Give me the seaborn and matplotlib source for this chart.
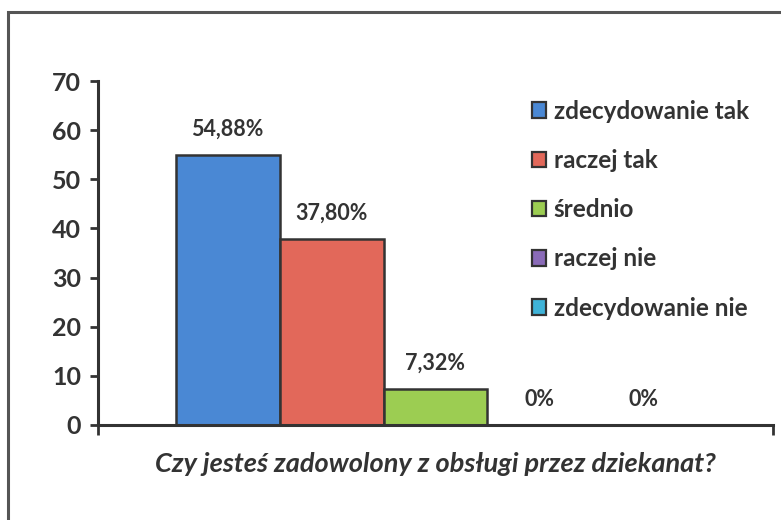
import numpy as np
import pandas as pd
import matplotlib.pyplot as plt
import matplotlib.patches as mpatches
import seaborn as sns

# --------------------
# DATA
# --------------------
question = 'Czy jesteś zadowolony z obsługi przez dziekanat?'
answers = ['zdecydowanie tak', 'raczej tak', 'średnio', 'raczej nie', 'zdecydowanie nie']
percents = [54.88, 37.80, 7.32, 0, 0]
value_labels = ['54,88%', '37,80%', '7,32%', '0%', '0%']
colors = ['#4a88d4', '#e2685a', '#9ccd52', '#8a6bb8', '#3fb3d8']
yticks = [0, 10, 20, 30, 40, 50, 60, 70]

# --------------------
# PLOT
# --------------------
sns.set_theme(style='white')
plt.rcParams['font.family'] = ['Lato', 'DejaVu Sans']
textcolor = '#333333'
linecolor = '#333333'

df = pd.DataFrame({'q': [question] * len(answers), 'ans': answers, 'val': percents})

fig = plt.figure(figsize=(7.81, 5.2), dpi=100)
fig.patches.append(mpatches.Rectangle((8 / 781, -0.1), 1.2, 1 - 12 / 520 + 0.1,
                                      transform=fig.transFigure, fill=False,
                                      edgecolor='#555555', linewidth=2.2))
ax = fig.add_axes([98 / 781, 1 - 425 / 520, (773 - 98) / 781, (425 - 81) / 520])

sns.barplot(data=df, x='q', y='val', hue='ans', palette=colors, width=0.77,
            edgecolor=linecolor, linewidth=1.8, ax=ax, legend=True, saturation=1)

for cont, lab in zip(ax.containers, value_labels):
    ax.bar_label(cont, labels=[lab], padding=11, fontsize=15.5, fontweight='bold',
                 color=textcolor)

ax.set_ylim(0, 70)
ax.set_yticks(yticks)
ax.set_xlim(-0.5, 0.5)
ax.set_xticks([-0.5, 0.5])
ax.set_xticklabels(['', ''])
ax.set_xlabel(question, fontsize=19.5, fontstyle='italic', fontweight='bold',
              color=textcolor, labelpad=9)
ax.set_ylabel('')
ax.tick_params(axis='y', labelsize=18, labelcolor=textcolor, length=6, width=2,
               color=linecolor, direction='out', left=True, pad=6)
ax.tick_params(axis='x', length=7, width=2, color=linecolor, direction='out', bottom=True)
for lab in ax.get_yticklabels():
    lab.set_fontweight('bold')

for side in ['top', 'right']:
    ax.spines[side].set_visible(False)
for side in ['left', 'bottom']:
    ax.spines[side].set_color(linecolor)
    ax.spines[side].set_linewidth(2.2)

leg = ax.legend(loc='upper left', bbox_to_anchor=((522 - 98) / 675, (425 - 90) / 344),
                frameon=False, fontsize=17.5, labelspacing=1.08, handlelength=0.6,
                handleheight=0.6, handletextpad=0.3, borderaxespad=0)
for h in leg.legend_handles:
    h.set_edgecolor(linecolor)
    h.set_linewidth(1.6)
for t in leg.get_texts():
    t.set_color(textcolor)
    t.set_fontweight('bold')

fig.savefig('out.png', dpi=100)
